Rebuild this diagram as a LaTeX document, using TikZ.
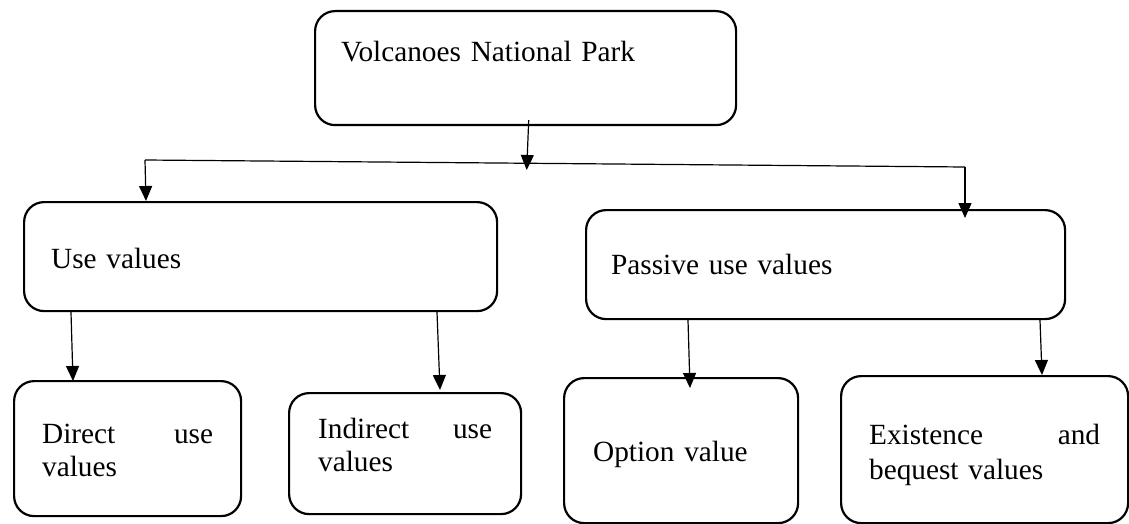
\documentclass[tikz,border=0pt]{standalone}
\usepackage{fontspec}
\setmainfont{Liberation Serif}
\usetikzlibrary{arrows.meta,calc}
\tikzset{
  box/.style={draw, line width=2.2pt, rounded corners=20pt, inner ysep=0pt,
    align=left, anchor=north west, font=\fontsize{29.3}{33}\selectfont},
  conn/.style={line width=1.2pt, -{Triangle[length=15pt,width=13pt]}},
  hline/.style={line width=1.2pt}
}
\begin{document}
\begin{tikzpicture}[x=1pt,y=-1pt]
\useasboundingbox (0,0) rectangle (1129,524);
\node[box, inner xsep=26pt, text width=369pt, text height=50pt, text depth=64pt] (top) at (314,10) {Volcanoes National Park};
\node[box, inner xsep=27pt, text width=419pt, text height=66pt, text depth=43pt] (use) at (23,201) {Use values};
\node[box, inner xsep=25pt, text width=429pt, text height=64pt, text depth=45pt] (passive) at (585,209) {Passive use values};
\node[box, inner xsep=28pt, text width=171pt, text height=62pt, text depth=73pt] (direct) at (13,380) {Direct\hfill use\\values};
\node[box, inner xsep=29pt, text width=174pt, text height=45pt, text depth=76pt] (indirect) at (288,392) {Indirect\hfill use\\values};
\node[box, inner xsep=29pt, text width=176pt, text height=83pt, text depth=62pt] (option) at (563,377) {Option value};
\node[box, inner xsep=28pt, text width=231pt, text height=68pt, text depth=79pt, font=\fontsize{29.3}{35}\selectfont] (existence) at (840,375) {Existence\hfill and\hspace*{-11pt}\\bequest values};
\coordinate (hl) at (145,160);
\coordinate (hr) at (965,167);
\coordinate (hm) at (526.7,170);
\draw[conn] ($(top.south west)+(214.7,-6)$) -- (hm);
\draw[hline] (hl) -- (hr);
\draw[conn] (hl) -- ($(use.north west)+(123,0)$);
\draw[conn] (hr) -- ($(passive.north west)+(380,9)$);
\draw[conn] ($(use.south west)+(48,0)$) -- ($(direct.north west)+(60,1)$);
\draw[conn] ($(use.south west)+(414,0)$) -- ($(indirect.north west)+(152,-2)$);
\draw[conn] ($(passive.south west)+(103,0)$) -- ($(option.north west)+(127,11)$);
\draw[conn] ($(passive.south west)+(455,0)$) -- ($(existence.north west)+(202,0)$);
\end{tikzpicture}
\end{document}
